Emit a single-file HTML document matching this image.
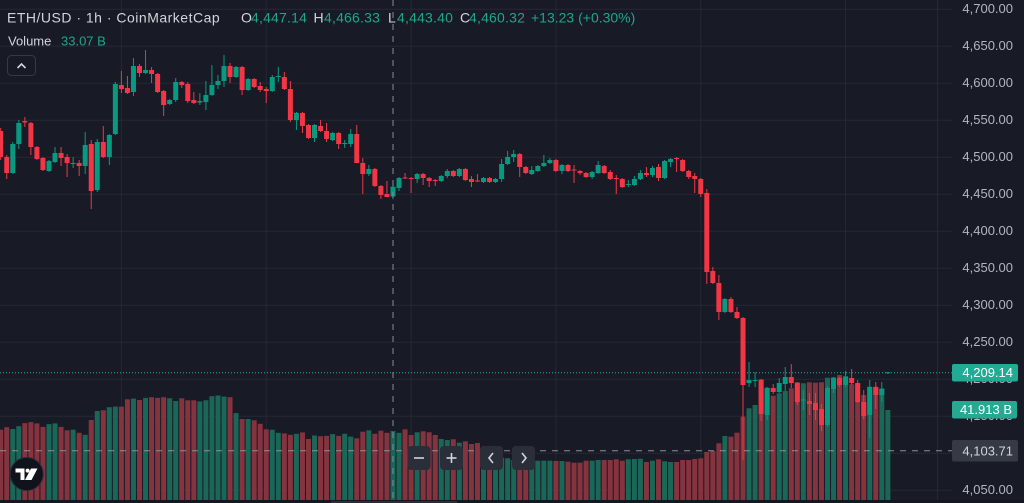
<!DOCTYPE html>
<html><head><meta charset="utf-8"><style>
html,body{margin:0;padding:0;background:#181b26;}
svg{display:block;font-family:"Liberation Sans",sans-serif;}
</style></head><body>
<svg id="s" width="1024" height="503" viewBox="0 0 1024 503" xmlns="http://www.w3.org/2000/svg">
<rect width="1024" height="503" fill="#181b26"/>
<g id="grid" stroke="#252935" stroke-width="1"></g>
<g id="vol"></g>
<line x1="0" y1="372.7" x2="952" y2="372.7" stroke="#22ab94" stroke-width="1" stroke-dasharray="1 2"/>
<g id="cdl"></g>
<line x1="393" y1="0" x2="393" y2="500" stroke="#8a8d96" stroke-width="1" stroke-dasharray="6 6"/>
<line x1="0" y1="450.8" x2="952" y2="450.8" stroke="#8a8d96" stroke-width="1" stroke-dasharray="6 6"/>
<rect x="0" y="500" width="1024" height="3" fill="#131722"/>
<rect x="331" y="501" width="126" height="2" fill="#2a2e39"/>
<g id="axis" font-size="13" fill="#b2b5be" text-anchor="end"></g>
<rect x="952" y="364" width="66" height="17.5" rx="2" fill="#22ab94"/>
<text x="1013" y="377.2" font-size="13" fill="#ffffff" text-anchor="end">4,209.14</text>
<rect x="952" y="401" width="65" height="17.5" rx="2" fill="#26a893"/>
<text x="1012" y="414.2" font-size="13" fill="#ffffff" text-anchor="end">41.913 B</text>
<rect x="952" y="440" width="66" height="21.5" rx="2" fill="#363a45"/>
<text x="1013" y="455.3" font-size="13" fill="#d1d4dc" text-anchor="end">4,103.71</text>
<text x="7" y="22.5" font-size="14" letter-spacing="0.5" fill="#d1d4dc">ETH/USD · 1h · CoinMarketCap</text>
<text y="22.5" font-size="14">
<tspan x="241" fill="#d1d4dc">O</tspan><tspan x="251" fill="#1ea58a" letter-spacing="0.2">4,447.14</tspan>
<tspan x="313.5" fill="#d1d4dc">H</tspan><tspan x="324" fill="#1ea58a" letter-spacing="0.2">4,466.33</tspan>
<tspan x="388" fill="#d1d4dc">L</tspan><tspan x="397" fill="#1ea58a" letter-spacing="0.2">4,443.40</tspan>
<tspan x="460" fill="#d1d4dc">C</tspan><tspan x="469" fill="#1ea58a" letter-spacing="0.2">4,460.32</tspan>
<tspan x="531" fill="#1ea58a">+13.23 (+0.30%)</tspan>
</text>
<text x="8" y="45.7" font-size="13" fill="#d1d4dc">Volume</text>
<text x="61" y="45.7" font-size="13" fill="#1ea58a">33.07 B</text>
<rect x="7.5" y="55.5" width="28" height="20" rx="4" fill="none" stroke="#363a45"/>
<polyline points="17.5,68 21.5,64 25.5,68" fill="none" stroke="#d1d4dc" stroke-width="1.6"/>
<circle cx="26.7" cy="474" r="16.5" fill="#10131b" stroke="#2a2e39" stroke-width="1"/>
<rect x="15.5" y="468.5" width="9" height="4" fill="#fff"/>
<rect x="20.5" y="468.5" width="4" height="11.5" fill="#fff"/>
<circle cx="27.6" cy="470.6" r="2" fill="#fff"/>
<polygon points="31,468.5 37.5,468.5 31.5,480 25,480" fill="#fff"/>
<rect x="407.5" y="446" width="23" height="24" rx="4" fill="#2a2e39"/>
<line x1="414" y1="458" x2="424" y2="458" stroke="#d1d4dc" stroke-width="1.6"/>
<rect x="440" y="446" width="23" height="24" rx="4" fill="#2a2e39"/>
<line x1="446.5" y1="458" x2="456.5" y2="458" stroke="#d1d4dc" stroke-width="1.6"/>
<line x1="451.5" y1="453" x2="451.5" y2="463" stroke="#d1d4dc" stroke-width="1.6"/>
<rect x="480" y="446" width="23" height="24" rx="4" fill="#2a2e39"/>
<polyline points="493,453 489,458 493,463" fill="none" stroke="#d1d4dc" stroke-width="1.6"/>
<rect x="512" y="446" width="23" height="24" rx="4" fill="#2a2e39"/>
<polyline points="522,453 526,458 522,463" fill="none" stroke="#d1d4dc" stroke-width="1.6"/>
</svg>
<script>
(function(){
var NS="http://www.w3.org/2000/svg";
function el(p,t,a){var e=document.createElementNS(NS,t);for(var k in a)e.setAttribute(k,a[k]);p.appendChild(e);return e;}
var C=[[131,157,128,160,0],[157,173,155,179,0],[144,173,142,174,1],[123,144,120,149,1],[121,122.5,117,127,0],[123,147,122,155,0],[147,159,146,160,0],[158,170,157,171,0],[161,171,160,172,1],[153,162,147,163,1],
[153,158,147,166,0],[157,163,154,177,0],[163,164,157,168,1],[163,166,160,176,0],[145,166,132,174,1],[144,191,140,209,0],[142,190,139,192,1],[142,157,126,158,0],[135,157,134,165,1],[84,134,82,135,1],
[85,89,71,93,0],[88,93,76,94,0],[66,92,58,96,1],[66,73,64,77,0],[70,73,50,74,1],[70,74,67,83,0],[74,92,73,93,0],[91,105,90,116,0],[100,104,99,105,1],[82,100,78,102,1],
[82,85,81,88,0],[84,101,82,103,0],[100,103,92,104,0],[101,102.5,93,105,1],[95,102,81,110,1],[85,95,65,96,1],[81,85,75,89,1],[66,81,55,87,1],[66,77,63,83,0],[67,77,66,78,1],
[67,90,66,95,0],[79,90,78,91,1],[79,87,78,88,0],[86,90,82,92,0],[89,91,87,103,0],[77,91,75,92,1],[76,77,67,82,1],[77,89,72,90,0],[89,120,81,122,0],[113,120,112,130,1],
[113,126,112,133,0],[125,138,124,139,0],[125,138,124,142,1],[126,131,120,132,0],[131,139,123,142,0],[133,140,132,141,1],[133,144,132,149,0],[143,144,140,148,1],[134,144,129,147,1],[134,163,125,163,0],
[163,174,158,194,0],[169,174,165,176,1],[169,186,168,187,0],[186,195,185,199,0],[194,197,181,197,0],[186.7,196.4,182.2,199.2,1],[178,188,177,191,1],[177.5,178.5,173,179,0],[178,179,177,193,0],[174,179,173,183,1],
[174,178,173,185,0],[178,181,177,187,0],[180,181,179,186,0],[176,181,175,182,1],[171,176,169,178,1],[171,176,170,177,0],[169,176,168,177,1],[169,180,168,181,0],[179,182,176,187,0],[180.5,181.5,174,182,0],
[178,182,177,183,1],[178,182,177,183,0],[179,182,178,183,1],[164,179,159,182,1],[157,164,151,165,1],[154,157,150,162,1],[154,167,153,177,0],[167,173,166,174,0],[170,174,166,175,1],[166,171,165,172,1],
[163,166,155,167,1],[160,163,158,164,1],[160,171,159,172,0],[165,171,164,174,1],[165,171,164,172,0],[169.5,170.5,165,183,0],[171,173,170,175,0],[173,177,172,178,0],[172,177,171,179,1],[165,173,161,174,1],
[166,173,165,174,0],[172,179,170,180,0],[178,179,175,194,0],[179,187,178,188,0],[184,185,180,187,1],[179,185,176,186,1],[173,179,170,180,1],[173,175,167,177,0],[168,175,166,177,1],[167,178,164,181,0],
[161,178,160,179,1],[159,162,158,167,1],[158,159,157,172,0],[160,171,159,172,0],[171,177,170,179,0],[176,179,173,193,0],[179,194,178,197,0],[193,272,189,284,0],[271,283,267,284,0],[283,312,275,320,0],
[299,312,298,313,1],[299,312,297,313,0],[312,318,307,319,0],[318,385,317,460,0],[380,383,362,387,1],[380,381,372,387,1],[380,414,379,421,0],[388,415,387,420,1],[388,392,384,394,0],[383,392,378,393,1],
[377,384,367,391,1],[377,383,364,388,0],[383,402,382,405,0],[399.5,400.5,390,410,1],[401,404,393,415,0],[403,410,393,420,0],[409,425,404,431,0],[388,425,386,427,1],[378,389,377,393,1],[378,385,377,387,0],
[377,385,371,387,1],[378,383,369,385,0],[383,402,380,403,0],[402,416,390,419,0],[387,415,380,438,1],[387,395,382,409,0],[389,395,382,402,1],[372.2,373.2,372,374,1]];
var V=[429.7,427.2,429,426.2,423.1,422.1,423.4,426.9,424.1,423.4,426.9,430.3,429.7,432.8,434.8,420,411,410.3,407.2,406.6,
406.6,399.3,398.6,400,397.9,397.2,397.9,397.2,398.3,401,398.3,400.3,400.3,401.4,400.3,396.2,395.5,396.6,397.2,413.1,
419,419,420.3,423.8,429.3,429.7,432.8,433.4,434.8,433.8,432.4,439,435.5,436.2,435.9,434.1,435.9,433.8,436.6,438.3,
431.7,430.3,433.8,430.7,432.8,431,432.8,429.3,435,432.3,431.3,432.3,435,439,440,439.3,442.7,441.3,444,443,
450,453,451.7,457.7,458.3,460,461,461,460.7,460.7,460.7,460.7,461,461,461.7,462.7,462.7,460.7,460.7,460,
460,460,459.3,460.7,459.3,459,458.7,462,460.7,459.3,461.3,462,462,460,460,459,458.3,452,451,443.3,
436,436.7,432.7,416.7,408.3,405,379.3,387.7,395.7,393.3,391,388.3,382.3,383.3,382.3,382.7,382.3,377.7,377.3,375,
376,384.3,384.3,395,386.7,386.7,388.3,410];
var P=6.035,X0=0.7;
var g=document.getElementById('grid');
var hy=[];for(var p=4700;p>=4050;p-=50){hy.push([p,9.3+(4700-p)*0.74]);}
hy.forEach(function(h){el(g,'line',{x1:0,x2:952,y1:h[1].toFixed(1),y2:h[1].toFixed(1)});});
[20,44,68,92,116,140].forEach(function(i){var x=(X0+P*i).toFixed(1);el(g,'line',{x1:x,x2:x,y1:0,y2:500});});
el(g,'line',{x1:937.5,x2:937.5,y1:0,y2:500});
var ax=document.getElementById('axis');
hy.forEach(function(h){var t=el(ax,'text',{x:1013,y:(h[1]+3.5).toFixed(1)});t.textContent=(h[0]+'').replace(/^(\d)(\d{3})$/,'$1,$2')+'.00';});
var vg=document.getElementById('vol'),cg=document.getElementById('cdl');
for(var i=0;i<C.length;i++){
 var x=X0+P*i,c=C[i],up=c[4]===1;
 var vy=V[i];
 el(vg,'rect',{x:(x-2.5).toFixed(2),y:vy,width:5,height:(500-vy).toFixed(1),fill:up?'#1a6657':'#84333f'});
 var col=up?'#089981':'#f23645';
 el(cg,'rect',{x:(x-0.5).toFixed(2),y:c[2],width:1,height:Math.max(1,c[3]-c[2]),fill:col});
 el(cg,'rect',{x:(x-2.5).toFixed(2),y:c[0],width:5,height:Math.max(1,c[1]-c[0]),fill:col});
}
})();
</script>
</body></html>
